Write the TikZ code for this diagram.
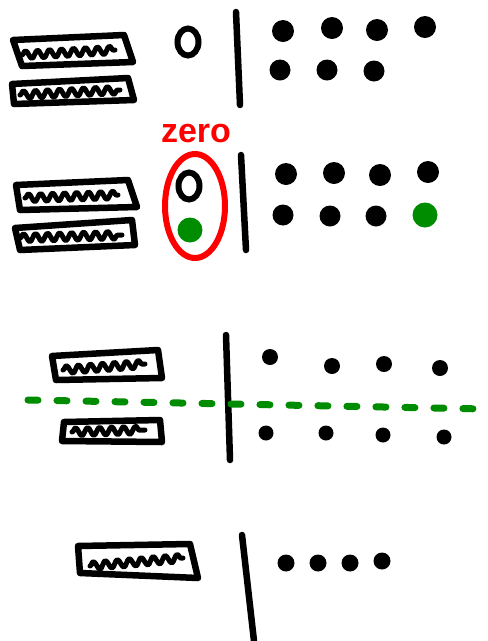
\documentclass[tikz,border=0pt]{standalone}
\usepackage{fontspec}
\setmainfont{Liberation Sans}
\usetikzlibrary{decorations.pathmorphing,shapes.geometric}
\definecolor{pgreen}{RGB}{0,140,0}
\definecolor{pred}{RGB}{255,0,0}
\tikzset{
  stroke/.style={line width=6.5pt,line cap=round,line join=round},
  boxr/.style={stroke,draw=black},
  squig/.style={line width=5pt,line cap=round,line join=round,decorate,decoration={snake,segment length=12pt,amplitude=4pt}},
  dot/.style={circle,fill=black,inner sep=0pt,minimum size=#1},
  gdot/.style={circle,fill=pgreen,inner sep=0pt,minimum size=#1},
  ring/.style={ellipse,draw=black,line width=6pt,inner sep=0pt,minimum width=21pt,minimum height=27pt},
  divider/.style={stroke,draw=black},
}
\begin{document}
\begin{tikzpicture}[x=1pt,y=-1pt]
\useasboundingbox (0,0) rectangle (488,641);
% ---------- section 1 ----------
\draw[boxr] (13,40) -- (124,35) -- (133,62) -- (22,66) -- cycle;
\draw[squig] (22,55) -- (115,50);
\draw[boxr] (12,84) -- (128,78) -- (134,100) -- (14,104) -- cycle;
\draw[squig] (20,95) -- (120,90);
\node[ring] (o1) at (188,42) {};
\draw[divider] (236,12) coordinate (v1a) -- (240,105) coordinate (v1b);
\foreach \n/\x/\y in {a/283/31,b/332/28,c/377/30,d/425/27}
  \node[dot=22pt] (t\n) at (\x,\y) {};
\foreach \n/\x/\y in {a/280/70,b/327/70,c/374/71}
  \node[dot=21pt] (u\n) at (\x,\y) {};
% ---------- section 2 ----------
\node[text=pred,font=\bfseries\fontsize{34}{34}\selectfont] (zero) at (196,134) {zero};
\draw[pred,line width=6pt] (195,206) ellipse (30 and 52);
\node[ring] (o2) at (189,186) {};
\node[gdot=25pt] (g1) at (190,230) {};
\draw[boxr] (16,185) -- (128,180) -- (137,207) -- (20,210) -- cycle;
\draw[squig] (25,198) -- (118,195);
\draw[boxr] (15,228) -- (132,220) -- (135,245) -- (20,250) -- cycle;
\draw[squig] (20,238) -- (122,235);
\draw[divider] (241,155) coordinate (v2a) -- (246,250) coordinate (v2b);
\foreach \n/\x/\y in {a/286/174,b/334/173,c/380/175,d/428/172}
  \node[dot=22pt] (r\n) at (\x,\y) {};
\foreach \n/\x/\y in {a/283/215,b/330/216,c/376/216}
  \node[dot=21pt] (s\n) at (\x,\y) {};
\node[gdot=25pt] (sd) at (425,215) {};
% ---------- section 3 ----------
\draw[divider] (226,335) coordinate (v3a) -- (230,460) coordinate (v3b);
\draw[boxr] (52,356) -- (158,350) -- (162,378) -- (56,380) -- cycle;
\draw[squig] (63,370) -- (145,364);
\draw[boxr] (64,422) -- (160,420) -- (162,442) -- (62,441) -- cycle;
\draw[squig] (72,432) -- (145,430);
\foreach \n/\x/\y in {a/270/357,b/332/366,c/384/364,d/440/368}
  \node[dot=16pt] (p\n) at (\x,\y) {};
\foreach \n/\x/\y in {a/266/433,b/326/433,c/383/435,d/444/437}
  \node[dot=15pt] (q\n) at (\x,\y) {};
\draw[pgreen,line width=7pt,line cap=round,dash pattern=on 10pt off 19pt] (28,400) coordinate (ga) -- (485,409) coordinate (gb);
% ---------- section 4 ----------
\draw[boxr] (78,546) -- (190,544) -- (198,578) -- (80,573) -- cycle;
\draw[squig] (90,566) -- (183,558);
\draw[divider] (242,535) coordinate (v4a) -- (254,641) coordinate (v4b);
\foreach \n/\x/\y in {a/286/563,b/318/563,c/350/563,d/382/561}
  \node[dot=17pt] (w\n) at (\x,\y) {};
\end{tikzpicture}
\end{document}
